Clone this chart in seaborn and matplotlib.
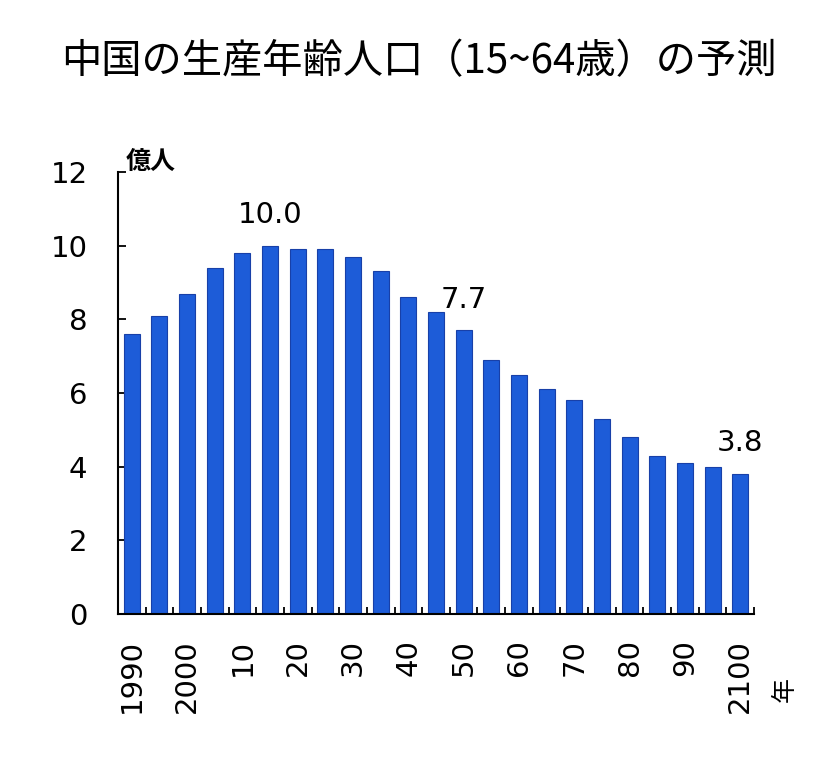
import numpy as np
import pandas as pd
import matplotlib
matplotlib.use('Agg')
import matplotlib.pyplot as plt
import seaborn as sns

# data (億人)
years = list(range(1990, 2101, 5))
values = [7.6, 8.1, 8.7, 9.4, 9.8, 10.0, 9.9, 9.9, 9.7, 9.3, 8.6, 8.2,
          7.7, 6.9, 6.5, 6.1, 5.8, 5.3, 4.8, 4.3, 4.1, 4.0, 3.8]
tick_text = ['1990', '2000', '10', '20', '30', '40', '50', '60', '70', '80', '90', '2100']
labelled_years = [2015, 2050, 2100]

df = pd.DataFrame({'year': [str(y) for y in years], 'pop': values})

sns.set_style('white')
plt.rcParams['font.family'] = ['DejaVu Sans', 'Noto Sans CJK JP']
plt.rcParams['text.color'] = 'black'
plt.rcParams['xtick.color'] = 'black'
plt.rcParams['ytick.color'] = 'black'

fig = plt.figure(figsize=(8.25, 7.65), dpi=100)
ax = fig.add_axes([118 / 825, 1 - 614 / 765, 636 / 825, 442 / 765])

sns.barplot(data=df, x='year', y='pop', color='#1d5cd8', width=0.58,
            saturation=1, edgecolor='#1840a8', linewidth=0.8, ax=ax)

ax.set_xlim(-0.5, len(years) - 0.5)
ax.set_ylim(0, 12)
ax.set_yticks(range(0, 13, 2))
ax.tick_params(axis='y', left=True, direction='in', length=6, width=1.3, pad=22,
               labelsize=21)

# labels only at the decades, small ticks between bars
ax.set_xticks(range(0, len(years), 2))
ax.set_xticklabels(tick_text, rotation=90, fontsize=21, va='top')
ax.tick_params(axis='x', bottom=True, length=0, pad=18)
ax.set_xticks(np.arange(0.5, len(years), 1), minor=True)
ax.tick_params(axis='x', which='minor', bottom=True, direction='in',
               length=5, width=1.3)

ax.set_xlabel('')
ax.set_ylabel('')
sns.despine(ax=ax)
for s in ['left', 'bottom']:
    ax.spines[s].set_color('black')
    ax.spines[s].set_linewidth(1.5)

for y in labelled_years:
    i = years.index(y)
    ax.text(i, values[i] + 0.45, f'{values[i]:.1f}', ha='center', va='bottom',
            fontsize=21)

ax.text(0.012, 0.995, '億人', transform=ax.transAxes, ha='left', va='bottom',
        fontsize=18, fontweight='bold')
fig.text(785 / 825, 1 - 690 / 765, '年', rotation=90, ha='center', va='center',
         fontsize=18)

fig.text(0.508, 1 - 62 / 765, '中国の生産年齢人口（15~64歳）の予測',
         ha='center', va='center', fontsize=29,
         family=['Noto Sans CJK JP', 'DejaVu Sans'])

fig.savefig('out.png', dpi=100)
